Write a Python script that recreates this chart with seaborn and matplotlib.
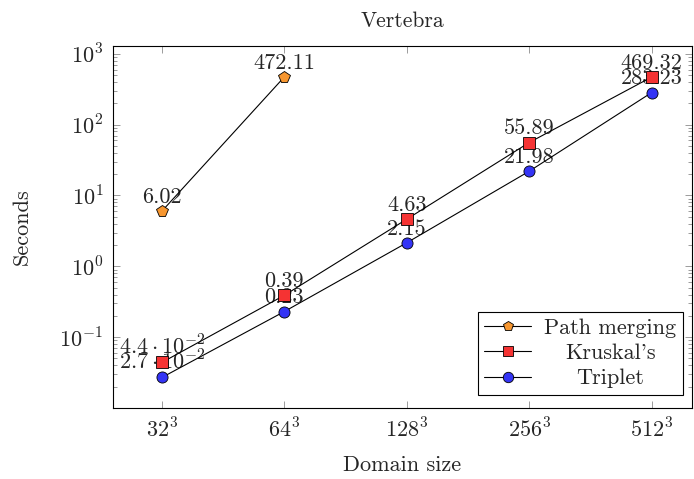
import numpy as np
import pandas as pd
import matplotlib
matplotlib.use("Agg")
import matplotlib.pyplot as plt
import seaborn as sns
from matplotlib.ticker import LogLocator, NullFormatter, FixedLocator
from matplotlib.lines import Line2D

# ---- data ----
domain_labels = [r"$32^3$", r"$64^3$", r"$128^3$", r"$256^3$", r"$512^3$"]
path_merging = [6.02, 472.11]
kruskal = [0.044, 0.39, 4.63, 55.89, 469.32]
triplet = [0.027, 0.23, 2.15, 21.98, 283.23]
path_labels = ["6.02", "472.11"]
kruskal_labels = [r"$4.4\cdot10^{-2}$", "0.39", "4.63", "55.89", "469.32"]
triplet_labels = [r"$2.7\cdot10^{-2}$", "0.23", "2.15", "21.98", "283.23"]
series_names = ["Path merging", "Kruskal's", "Triplet"]
ytick_labels = [r"$10^{-1}$", r"$10^{0}$", r"$10^{1}$", r"$10^{2}$", r"$10^{3}$"]

sns.set_style("ticks")
plt.rcParams["font.family"] = ["cmr10"]
plt.rcParams["mathtext.fontset"] = "cm"
plt.rcParams["axes.formatter.use_mathtext"] = True
plt.rcParams["axes.unicode_minus"] = False
FS = 16

fig = plt.figure(figsize=(6.94, 4.79), dpi=100)
ax = fig.add_axes([113 / 694, 1 - 408 / 479, 579 / 694, 362 / 479])

styles = [
    ("p", "#F7962F", path_merging, path_labels),
    ("s", "#F53333", kruskal, kruskal_labels),
    ("o", "#3434F5", triplet, triplet_labels),
]
handles = []
for name, (mk, col, vals, labs) in zip(series_names, styles):
    df = pd.DataFrame({"x": np.arange(len(vals)), "y": vals})
    sns.lineplot(data=df, x="x", y="y", ax=ax, color="black", linewidth=0.8,
                 marker=mk, markersize=8 if mk != "p" else 8.5,
                 markerfacecolor=col, markeredgecolor="black",
                 markeredgewidth=0.6, zorder=3)
    for xi, (v, lab) in enumerate(zip(vals, labs)):
        ax.annotate(lab, (xi, v), xytext=(0, 3.0), textcoords="offset points",
                    ha="center", va="bottom", fontsize=FS, zorder=1.5)
    handles.append(Line2D([], [], color="black", linewidth=0.8, marker=mk,
                          markersize=7.5, markerfacecolor=col,
                          markeredgecolor="black", markeredgewidth=0.6))

ax.set_yscale("log")
ax.set_ylim(10 ** -2.0, 10 ** 3.11)
ax.set_xlim(-0.4, 4.33)
ax.set_xticks(range(len(domain_labels)))
ax.set_xticklabels(domain_labels, fontsize=FS)
ax.yaxis.set_major_locator(FixedLocator([0.1, 1, 10, 100, 1000]))
ax.set_yticklabels(ytick_labels, fontsize=FS)
ax.yaxis.set_minor_locator(LogLocator(base=10, subs=np.arange(2, 10), numticks=20))
ax.yaxis.set_minor_formatter(NullFormatter())
ax.tick_params(which="major", direction="in", length=5, width=0.6, color="0.55",
               top=True, right=True, pad=7)
ax.tick_params(which="minor", direction="in", length=3, width=0.6, color="0.55",
               top=False, right=True)
ax.tick_params(axis="x", which="minor", bottom=False, top=False)
for s in ax.spines.values():
    s.set_linewidth(0.8)
    s.set_color("black")

ax.set_xlabel("Domain size", fontsize=FS, labelpad=10)
ax.set_ylabel("Seconds", fontsize=FS, labelpad=20)
ax.set_title("Vertebra", fontsize=15.5, pad=14)

leg = ax.legend(handles, series_names, loc="lower right",
                bbox_to_anchor=(0.9845, 0.036), borderaxespad=0,
                fontsize=FS, frameon=True, fancybox=False, framealpha=1,
                edgecolor="black", handlelength=2.1, labelspacing=0.25,
                borderpad=0.3, handletextpad=0.6)
leg.get_frame().set_linewidth(0.8)

fig.canvas.draw()
r = fig.canvas.get_renderer()
texts = leg.get_texts()
widths = [t.get_window_extent(r).width for t in texts]
mw = max(widths)
for t, w in zip(texts, widths):
    t.set_x((mw - w) / 2)

fig.savefig("out.png", dpi=100)
